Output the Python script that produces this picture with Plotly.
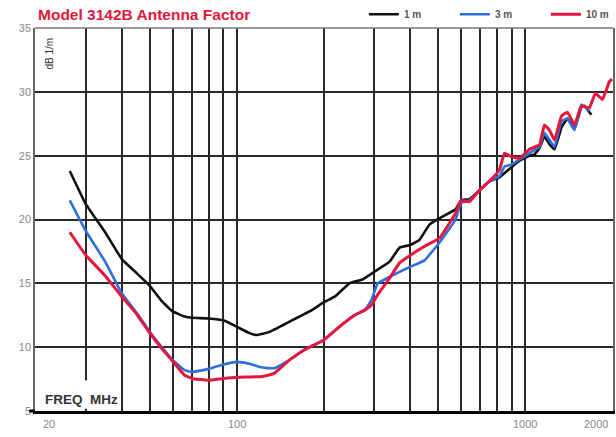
import math
import plotly.graph_objects as go

# ---- data (frequency MHz, antenna factor dB 1/m) ----
freq_1m = [26.4, 30, 35, 40, 45, 50, 55, 60, 66, 70, 80, 90, 100, 110.9, 117, 130, 152.6, 179, 200, 220,
           246, 273, 300, 339, 367, 400, 430, 466, 505, 574, 600, 641, 695, 752, 815, 897, 956, 1035, 1077,
           1121, 1166, 1214, 1264, 1336, 1368, 1401, 1482, 1567, 1605, 1670, 1697]
af_1m = [23.8, 21.2, 19.0, 16.9, 15.8, 14.8, 13.6, 12.8, 12.4, 12.3, 12.25, 12.1, 11.6, 11.1, 10.95, 11.2, 12.0,
         12.8, 13.5, 14.0, 15.0, 15.3, 15.9, 16.7, 17.8, 18.0, 18.4, 19.6, 20.1, 20.8, 21.5, 21.6, 22.3, 23.0,
         23.3, 24.1, 24.6, 25.0, 25.1, 25.6, 26.5, 25.9, 25.5, 27.2, 27.6, 27.9, 27.1, 28.8, 28.9, 28.4, 28.2]

freq_3m = [26.4, 30, 35, 40, 45, 50, 55, 60, 66, 70, 80, 90, 100, 110.9, 123, 135, 152.6, 172, 200, 227, 256,
           278, 293.5, 308, 339, 367, 400, 448, 505, 574, 600, 641, 695, 752, 815, 848, 897, 956, 1035, 1121,
           1166, 1214, 1264, 1336, 1401, 1482, 1567, 1670]
af_3m = [21.5, 19.1, 16.7, 14.2, 12.7, 11.2, 10.0, 9.0, 8.2, 8.05, 8.3, 8.65, 8.85, 8.7, 8.4, 8.35, 9.0, 9.8,
         10.55, 11.6, 12.5, 12.9, 13.7, 15.0, 15.5, 15.9, 16.3, 16.8, 18.2, 20.0, 21.3, 21.5, 22.3, 23.0, 23.4,
         24.15, 24.3, 24.7, 25.2, 25.7, 26.8, 26.25, 25.7, 27.7, 27.9, 27.0, 29.0, 28.5]

freq_10m = [26.4, 30, 35, 40, 45, 50, 55, 60, 66, 70, 80, 90, 100, 110.9, 123, 135, 152.6, 172, 200, 227, 256,
            278, 293.5, 308, 339, 367, 400, 448, 505, 574, 600, 641, 695, 752, 815, 848, 897, 956, 1035, 1121,
            1166, 1214, 1264, 1336, 1401, 1482, 1567, 1670, 1752, 1852, 1959, 2000]
af_10m = [19.0, 17.2, 15.6, 13.95, 12.6, 11.1, 9.9, 8.9, 7.8, 7.55, 7.4, 7.55, 7.65, 7.67, 7.7, 7.95, 9.0, 9.8,
          10.55, 11.6, 12.5, 12.9, 13.3, 14.1, 15.4, 16.6, 17.2, 17.9, 18.55, 20.5, 21.5, 21.4, 22.3, 23.0, 23.9,
          25.2, 24.9, 24.8, 25.5, 25.85, 27.4, 27.0, 26.2, 28.1, 28.4, 27.4, 28.9, 28.75, 29.9, 29.4, 30.8, 31.0]

series_names = ["1 m", "3 m", "10 m"]
series_colors = ["#111111", "#2f6fe0", "#e3163c"]

grid_x = [30, 40, 50, 60, 70, 80, 90, 100, 200, 300, 400, 500, 600, 700, 800, 900, 1000]
y_ticks = [5, 10, 15, 20, 25, 30, 35]
x_label_vals = [20, 100, 1000, 2000]
x_label_text = ["20", "100", "1000", "2000"]

fig = go.Figure()
for fx, fy, name, col, w in zip([freq_1m, freq_3m, freq_10m], [af_1m, af_3m, af_10m],
                                series_names, series_colors, [2.6, 2.6, 3.0]):
    fig.add_trace(go.Scatter(x=fx, y=fy, mode="lines", name=name,
                             line=dict(color=col, width=w, shape="spline", smoothing=0.3)))

fig.update_layout(
    width=616, height=437,
    margin=dict(l=35, r=3, t=28, b=26, autoexpand=False),
    paper_bgcolor="white", plot_bgcolor="white",
    font=dict(family="Liberation Sans, Arial, sans-serif", color="#777"),
    showlegend=True,
    legend=dict(orientation="h", x=0.569, xanchor="left", y=1.036, yanchor="middle",
                font=dict(size=10, color="#555", family="Liberation Sans, Arial, sans-serif", weight=700),
                bgcolor="rgba(0,0,0,0)", itemwidth=30, entrywidth=46, entrywidthmode="pixels"),
    xaxis=dict(type="log", range=[math.log10(20), math.log10(2016)], tickvals=grid_x, showticklabels=False,
               showgrid=True, gridcolor="#2a2a2a", gridwidth=1.5, ticks="",
               showline=True, linecolor="#000", linewidth=3, zeroline=False),
    yaxis=dict(range=[5, 35], tickvals=y_ticks, showgrid=True, gridcolor="#2a2a2a", gridwidth=1.5,
               ticks="", tickfont=dict(size=11, color="#888"), zeroline=False,
               showline=True, linecolor="#666", linewidth=1.5, mirror=True),
)

# border top
fig.add_shape(type="line", xref="paper", yref="paper", x0=0, x1=1, y0=1, y1=1,
              line=dict(color="#777", width=1.5))
# thick base line extends slightly left of the frame
fig.add_shape(type="line", xref="paper", yref="paper", x0=-0.01, x1=0, y0=0, y1=0,
              line=dict(color="#000", width=3))
# white patch so the 30 MHz gridline stops above the axis caption
fig.add_shape(type="rect", xref="paper", yref="paper", x0=0.07, x1=0.105, y0=0.006, y1=0.08,
              fillcolor="white", line=dict(width=0), layer="above")

for v, t in zip(x_label_vals, x_label_text):
    anchor = "center"
    shift = 0
    if t == "20":
        anchor, shift = "left", 6
    elif t == "2000":
        anchor, shift = "right", -2
    fig.add_annotation(x=math.log10(v), y=0, xref="x", yref="paper", text=t, showarrow=False,
                       xanchor=anchor, yanchor="top", xshift=shift, yshift=-5,
                       font=dict(size=11, color="#888"))

fig.add_annotation(x=0, y=1.036, xref="paper", yref="paper", xanchor="left", yanchor="middle",
                   text="<b>Model 3142B Antenna Factor</b>", showarrow=False, xshift=1,
                   font=dict(size=15.5, color="#e3163c", family="Liberation Sans, Arial"))
fig.add_annotation(x=0, y=0, xref="paper", yref="paper", xanchor="left", yanchor="bottom",
                   text="<b>FREQ  MHz</b>", showarrow=False, xshift=8, yshift=2,
                   font=dict(size=13.5, color="#333"))
fig.add_annotation(x=0, y=1, xref="paper", yref="paper", xanchor="left", yanchor="top",
                   text="dB 1/m", textangle=-90, showarrow=False, xshift=6, yshift=-8,
                   font=dict(size=10, color="#333"))

fig.write_html("out.html")
